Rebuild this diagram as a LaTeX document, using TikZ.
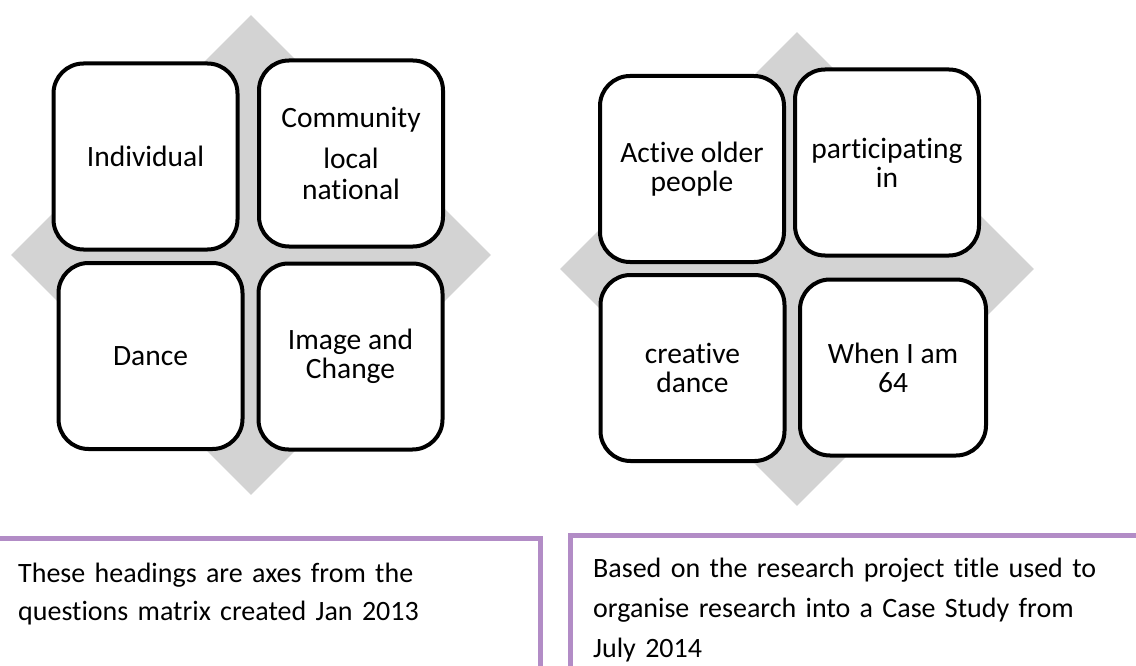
\documentclass[tikz,border=0pt]{standalone}
\usepackage{fontspec}
\setmainfont{Carlito}[Ligatures={NoCommon}]
\usetikzlibrary{shapes.geometric}
\definecolor{diamondgray}{RGB}{211,211,211}
\definecolor{notepurple}{RGB}{178,140,198}

\begin{document}
\begin{tikzpicture}[x=1pt,y=-1pt,
    backdiamond/.style={diamond, fill=diamondgray, inner sep=0pt, minimum width=#1, minimum height=#1},
    quadbox/.style={draw=black, fill=white, line width=4pt, rounded corners=30pt,
        minimum width=184pt, minimum height=186pt, align=center, inner sep=0pt,
        font=\fontsize{29.5}{29}\selectfont},
    notebox/.style={draw=notepurple, line width=5pt},
    notetext/.style={anchor=base west, inner sep=0pt, align=left, text width=560pt}]
    \useasboundingbox (0,0) rectangle (1136,666);
    \clip (0,0) rectangle (1136,666);

    % left matrix (Jan 2013)
    \node[backdiamond=480pt] (diamL) at (251,255) {};
    \node[quadbox] (indiv) at (145.5,156.5) {Individual};
    \node[quadbox] (community) at (351,153.5) {Community\\[12pt]local\\[2pt]national};
    \node[quadbox] (dance) at (150.5,356) {Dance};
    \node[quadbox] (image) at (350.5,356.5) {Image and\\Change};

    % right matrix (July 2014)
    \node[backdiamond=474pt] (diamR) at (797,269) {};
    \node[quadbox] (active) at (692,169) {Active older\\people};
    \node[quadbox] (particip) at (887,162.5) {participating\\in};
    \node[quadbox] (creative) at (692.5,368) {creative\\dance};
    \node[quadbox, minimum width=186pt, minimum height=176pt] (whenI) at (893,367.5) {When I am\\64};

    % notes
    \draw[notebox] (-20,538) rectangle (540,720);
    \draw[notebox] (570,535) rectangle (1160,720);
    \node[notetext, font=\fontsize{28}{38}\selectfont] (noteL) at (18,582)
        {These headings are axes from the\\questions matrix created Jan 2013};
    \node[notetext, font=\fontsize{28}{40}\selectfont] (noteR) at (593,577)
        {Based on the research project title used to\\organise research into a Case Study from\\July 2014};
\end{tikzpicture}
\end{document}
